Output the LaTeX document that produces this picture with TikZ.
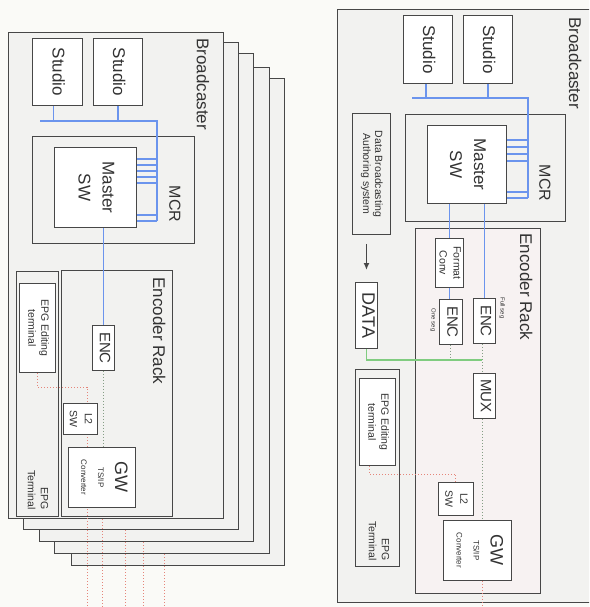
\documentclass[tikz,border=0pt]{standalone}
\usepackage{fontspec}
\setmainfont{Liberation Sans}
\usetikzlibrary{arrows.meta}
\usetikzlibrary{positioning}
\newcommand{\vlabel}[1]{\rotatebox{-90}{\begin{tabular}{@{}c@{}}#1\end{tabular}}}
\newcommand{\vlabelr}[1]{\rotatebox{-90}{\begin{tabular}{@{}r@{}}#1\end{tabular}}}

\begin{document}
\begin{tikzpicture}[x=1pt,y=-1pt,
    framebox/.style={draw=linegray,line width=1.1pt,fill=back,anchor=north west,inner sep=0pt},
    devbox/.style={draw=linegray,line width=0.9pt,fill=white,anchor=north west,inner sep=0pt,text=textgray,font=\fontsize{17}{24}\selectfont},
    boxlabel/.style={inner sep=0pt,text=textgray,font=\fontsize{17}{20}\selectfont},
    busline/.style={draw=busblue,line width=1.6pt},
    tsline/.style={draw=tsgray,line width=1pt,dotted},
    dataline/.style={draw=datagreen,line width=1.6pt},
    epgline/.style={draw=outred,line width=1pt,dotted}]

		    \definecolor{back}{rgb}{0.95,0.95,0.94}
		    \definecolor{paper}{rgb}{0.98,0.98,0.97}
		    \definecolor{rackfill}{rgb}{0.97,0.95,0.95}
		    \definecolor{linegray}{rgb}{0.28,0.28,0.28}
		    \definecolor{textgray}{rgb}{0.2,0.2,0.2}
		    \definecolor{busblue}{rgb}{0.42,0.58,0.93}
		    \definecolor{datagreen}{rgb}{0.50,0.80,0.50}
		    \definecolor{tsgray}{rgb}{0.52,0.62,0.52}
		    \definecolor{outred}{rgb}{0.90,0.52,0.48}

		    \fill[paper] (0,0) rectangle (589,607);
		    \useasboundingbox (0,0) rectangle (589,607);
		    \clip (0,0) rectangle (589,607);

% left: five broadcasters, back to front
		    \node(bcL5) [framebox,minimum width=213pt,minimum height=487pt] at (71,78) {};
		    \node(bcL4) [framebox,minimum width=215pt,minimum height=486pt] at (54,67) {};
		    \node(bcL3) [framebox,minimum width=214pt,minimum height=488pt] at (39,53) {};
		    \node(bcL2) [framebox,minimum width=215pt,minimum height=487pt] at (23,42) {};
		    \node(bcL1) [framebox,minimum width=215pt,minimum height=486pt] at (8,32) {};
		    \node(bcL1text) [boxlabel,below left=6pt and 13pt of bcL1.north east] {\vlabel{Broadcaster}};

		    \node(studioL1) [devbox,minimum width=50pt,minimum height=67pt] at (32,38) {\vlabel{Studio}};
		    \node(studioL2) [devbox,minimum width=49pt,minimum height=67pt] at (93,38) {\vlabel{Studio}};

		    \node(mcrL) [framebox,line width=0.9pt,minimum width=162pt,minimum height=107pt] at (32,136) {};
		    \node(mcrLtext) [boxlabel,font=\fontsize{16}{18}\selectfont] at (173,204) {\vlabel{MCR}};
		    \node(msL) [devbox,minimum width=82pt,minimum height=80pt] at (54,147) {\vlabel{Master\\SW}};

		    \coordinate(busLw) at (40,121);
		    \coordinate(busL) at (157,121);
		    \coordinate(busLs) at (157,221);
		    \draw[busline] (busLw) -- (busL) -- (busLs);
		    \draw[busline] ([xshift=-4pt]studioL1.south) -- ([xshift=-4pt]studioL1.south |- busL);
		    \draw[busline] (studioL2.south) -- (studioL2.south |- busL);
		    \draw[busline] (msL.east |- 0,159) -- (busL |- 0,159) (msL.east |- 0,165) -- (busL |- 0,165)
		        (msL.east |- 0,171) -- (busL |- 0,171) (msL.east |- 0,177) -- (busL |- 0,177)
		        (msL.east |- 0,183) -- (busL |- 0,183) (msL.east |- 0,215) -- (busL |- 0,215)
		        (msL.east |- 0,221) -- (busLs);

		    \node(rackL) [framebox,line width=0.9pt,minimum width=111pt,minimum height=246pt] at (61,270) {};
		    \node(rackLtext) [boxlabel] at (157,331) {\vlabel{Encoder Rack}};
		    \node(epgtL) [framebox,line width=0.9pt,minimum width=42pt,minimum height=245pt] at (16,271) {};
		    \node(epgtLtext) [boxlabel,anchor=south,font=\fontsize{10.5}{13}\selectfont] at (37,510) {\vlabelr{EPG\\Terminal}};
		    \node(epgeL) [devbox,minimum width=36pt,minimum height=89pt,font=\fontsize{10.5}{13}\selectfont] at (19,283) {\vlabel{EPG Editing\\terminal}};

		    \node(encL) [devbox,minimum width=22pt,minimum height=45pt,font=\fontsize{15}{18}\selectfont] at (92,325) {\vlabel{ENC}};
		    \coordinate(outL1) at (87,607);
		    \draw[epgline] (epgeL.south) |- (outL1 |- 0,387) -- (outL1);
		    \node(l2L) [devbox,minimum width=34pt,minimum height=31pt,font=\fontsize{10.5}{15}\selectfont] at (63,403) {\vlabel{L2\\SW}};
		    \node(gwL) [devbox,minimum width=67pt,minimum height=60pt,font=\fontsize{8}{17}\selectfont] at (68,447) {\vlabel{{\fontsize{18}{18}\selectfont GW}\\TS/IP\\Converter}};

		    \draw[busline] (msL.south -| encL.north) -- (encL.north);
		    \draw[tsline] (encL.south) -- (encL.south |- gwL.north);

% outputs of the rear broadcasters
		    \coordinate(outL2) at (102,607);
		    \coordinate(outL3) at (125,607);
		    \coordinate(outL4) at (143,607);
		    \coordinate(outL5) at (164,607);
		    \draw[epgline] (bcL1.south -| outL2) -- (outL2);
		    \draw[epgline] (bcL2.south -| outL3) -- (outL3);
		    \draw[epgline] (bcL3.south -| outL4) -- (outL4);
		    \draw[epgline] (bcL4.south -| outL5) -- (outL5);

% right: one broadcaster in detail
		    \node(bcR) [framebox,minimum width=280pt,minimum height=593pt] at (337,9) {};
		    \node(bcRtext) [boxlabel] at (573,63) {\vlabel{Broadcaster}};

		    \node(studioR1) [devbox,minimum width=49pt,minimum height=68pt] at (403,15) {\vlabel{Studio}};
		    \node(studioR2) [devbox,minimum width=49pt,minimum height=68pt] at (463,15) {\vlabel{Studio}};

		    \node(mcrR) [framebox,line width=0.9pt,minimum width=160pt,minimum height=107pt] at (405,114) {};
		    \node(mcrRtext) [boxlabel,font=\fontsize{16}{18}\selectfont] at (543,183) {\vlabel{MCR}};
		    \node(msR) [devbox,minimum width=79pt,minimum height=78pt] at (427,125) {\vlabel{Master\\SW}};

		    \coordinate(busRw) at (412,98);
		    \coordinate(busR) at (528,98);
		    \coordinate(busRs) at (528,198);
		    \draw[busline] (busRw) -- (busR) -- (busRs);
		    \draw[busline] ([xshift=-2pt]studioR1.south) -- ([xshift=-2pt]studioR1.south |- busR);
		    \draw[busline] (studioR2.south) -- (studioR2.south |- busR);
		    \draw[busline] (msR.east |- 0,140) -- (busR |- 0,140) (msR.east |- 0,147) -- (busR |- 0,147)
		        (msR.east |- 0,154) -- (busR |- 0,154) (msR.east |- 0,161) -- (busR |- 0,161)
		        (msR.east |- 0,192) -- (busR |- 0,192) (msR.east |- 0,198) -- (busRs);

		    \node(dbaR) [devbox,fill=back,minimum width=38pt,minimum height=121pt,font=\fontsize{10.5}{12}\selectfont] at (352,113) {\vlabel{Data Broadcasting\\Authoring system}};
		    \node(dataR) [devbox,minimum width=22pt,minimum height=66pt,font=\fontsize{18}{20}\selectfont] at (355,282) {\vlabel{DATA}};
		    \draw[-{Latex[length=7pt,width=6pt]},draw=linegray,line width=1.4pt,shorten <=9pt,shorten >=12pt] (dbaR.south -| dataR.north) -- (dataR.north);

		    \node(rackR) [framebox,line width=0.9pt,fill=rackfill,minimum width=125pt,minimum height=365pt] at (415,228) {};
		    \node(rackRtext) [boxlabel] at (524,287) {\vlabel{Encoder Rack}};
		    \node(fmtR) [devbox,minimum width=28pt,minimum height=49pt,font=\fontsize{10.5}{14}\selectfont] at (435,238) {\vlabel{Format\\Conv}};
		    \node(enc1R) [devbox,minimum width=23pt,minimum height=45pt,font=\fontsize{15}{18}\selectfont] at (439,299) {\vlabel{ENC}};
		    \node(enc2R) [devbox,minimum width=22pt,minimum height=45pt,font=\fontsize{15}{18}\selectfont] at (473,298) {\vlabel{ENC}};
		    \node(oneseg) [boxlabel,font=\fontsize{6}{7}\selectfont] at (433,320) {\vlabel{One seg}};
		    \node(fullseg) [boxlabel,font=\fontsize{6}{7}\selectfont] at (502,308) {\vlabel{Full seg}};
		    \node(muxR) [devbox,minimum width=22pt,minimum height=45pt,font=\fontsize{15}{18}\selectfont] at (473,373) {\vlabel{MUX}};
		    \node(l2R) [devbox,minimum width=35pt,minimum height=33pt,font=\fontsize{10.5}{15}\selectfont] at (438,482) {\vlabel{L2\\SW}};
		    \node(gwR) [devbox,minimum width=68pt,minimum height=60pt,font=\fontsize{8}{17}\selectfont] at (443,520) {\vlabel{{\fontsize{18}{18}\selectfont GW}\\TS/IP\\Converter}};

		    \node(epgtR) [framebox,line width=0.9pt,minimum width=44pt,minimum height=197pt] at (355,369) {};
		    \node(epgtRtext) [boxlabel,anchor=south,font=\fontsize{10.5}{13}\selectfont] at (378,561) {\vlabelr{EPG\\Terminal}};
		    \node(epgeR) [devbox,minimum width=36pt,minimum height=87pt,font=\fontsize{10.5}{13}\selectfont] at (359,378) {\vlabel{EPG Editing\\terminal}};

		    \draw[busline] (msR.south -| fmtR.north) -- (fmtR.north);
		    \draw[busline] (fmtR.south) -- (fmtR.south |- enc1R.north);
		    \draw[busline] (msR.south -| enc2R.north) -- (enc2R.north);

		    \coordinate(mixR) at (482,360);
		    \coordinate(outR) at (482,607);
		    \draw[tsline] (enc1R.south) -- (enc1R.south |- mixR);
		    \draw[tsline] (enc2R.south -| mixR) -- (muxR.north -| mixR);
		    \draw[tsline] (muxR.south -| mixR) -- (gwR.north -| mixR);
		    \draw[dataline] (dataR.south) |- (mixR);
		    \draw[epgline] ([xshift=-8pt]epgeR.south) |- ([yshift=8pt]l2R.north) -- (l2R.north);
		    \draw[epgline] (gwR.south -| outR) -- (outR);

\end{tikzpicture}
\end{document}
